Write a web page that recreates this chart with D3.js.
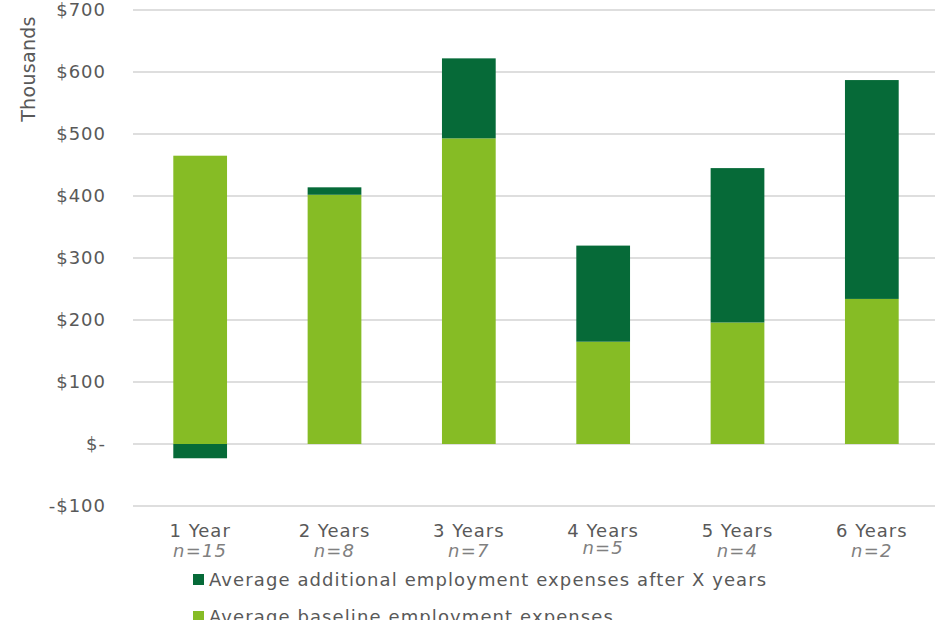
<!DOCTYPE html>
<html>
<head>
<meta charset="utf-8">
<script src="https://cdn.jsdelivr.net/npm/d3@7"></script>
<style>
  html, body { margin: 0; padding: 0; background: #fff; }
  svg { display: block; font-family: "DejaVu Sans", Verdana, sans-serif; }
</style>
</head>
<body>
<svg id="chart" width="935" height="620"></svg>
<script>
const categories = ["1 Year", "2 Years", "3 Years", "4 Years", "5 Years", "6 Years"];
const sampleSizes = ["n=15", "n=8", "n=7", "n=5", "n=4", "n=2"];
const baseline = [465, 402, 493, 165, 196, 234];
const additional = [-23, 12, 129, 155, 249, 353];
const yTicks = [-100, 0, 100, 200, 300, 400, 500, 600, 700];
const seriesNames = ["Average additional employment expenses after X years", "Average baseline employment expenses"];
const colors = { additional: "#066a38", baseline: "#86bc25" };

const svg = d3.select("#chart");
const plot = { left: 133, right: 939, top: 10, bottom: 506 };

const x = d3.scaleBand().domain(categories).range([plot.left, plot.right]).padding(0);
const y = d3.scaleLinear().domain([-100, 700]).range([plot.bottom, plot.top]);
const barW = x.bandwidth() * 0.4;

// gridlines
svg.append("g").selectAll("line").data(yTicks).join("line")
  .attr("x1", plot.left).attr("x2", 935)
  .attr("y1", d => y(d)).attr("y2", d => y(d))
  .attr("stroke", "#dedede").attr("stroke-width", 2);

// y axis labels
const fmt = d => d === 0 ? "$-" : (d < 0 ? "-$" + Math.abs(d) : "$" + d);
svg.append("g").selectAll("text").data(yTicks).join("text")
  .attr("x", 106).attr("y", d => y(d)).attr("dy", "0.36em")
  .attr("text-anchor", "end").attr("fill", "#595959").attr("font-size", 18)
  .attr("letter-spacing", 1)
  .text(fmt);

svg.append("text")
  .attr("transform", "translate(35,69) rotate(-90)")
  .attr("text-anchor", "middle").attr("fill", "#595959").attr("font-size", 19)
  .attr("letter-spacing", 0.3)
  .text("Thousands");

// bars
const data = categories.map((c, i) => ({ c, b: baseline[i], a: additional[i] }));
const cx = d => x(d.c) + x.bandwidth() / 2;

svg.append("g").selectAll("rect").data(data).join("rect")
  .attr("x", d => cx(d) - barW / 2).attr("width", barW)
  .attr("y", d => y(d.b)).attr("height", d => y(0) - y(d.b))
  .attr("fill", colors.baseline);

svg.append("g").selectAll("rect").data(data).join("rect")
  .attr("x", d => cx(d) - barW / 2).attr("width", barW)
  .attr("y", d => d.a >= 0 ? y(d.b + d.a) : y(0))
  .attr("height", d => d.a >= 0 ? y(d.b) - y(d.b + d.a) : y(d.a) - y(0))
  .attr("fill", colors.additional);

// x labels
svg.append("g").selectAll("text").data(data).join("text")
  .attr("x", cx).attr("y", 537)
  .attr("text-anchor", "middle").attr("fill", "#595959").attr("font-size", 18)
  .attr("letter-spacing", 1)
  .text(d => d.c);

svg.append("g").selectAll("text").data(categories).join("text")
  .attr("x", c => x(c) + x.bandwidth() / 2).attr("y", (c, i) => i === 3 ? 554 : 557)
  .attr("text-anchor", "middle").attr("fill", "#808080").attr("font-size", 18)
  .attr("font-style", "italic").attr("letter-spacing", 1.2)
  .text((c, i) => sampleSizes[i]);

// legend
const legendColors = [colors.additional, colors.baseline];
const lg = svg.append("g").selectAll("g").data(seriesNames).join("g")
  .attr("transform", (d, i) => `translate(193,${574 + i * 37})`);
lg.append("rect").attr("width", 11).attr("height", 11).attr("fill", (d, i) => legendColors[i]);
lg.append("text").attr("x", 16).attr("y", 5.5).attr("dy", "0.36em")
  .attr("fill", "#595959").attr("font-size", 18).attr("letter-spacing", 1.1)
  .text(d => d);
</script>
</body>
</html>
